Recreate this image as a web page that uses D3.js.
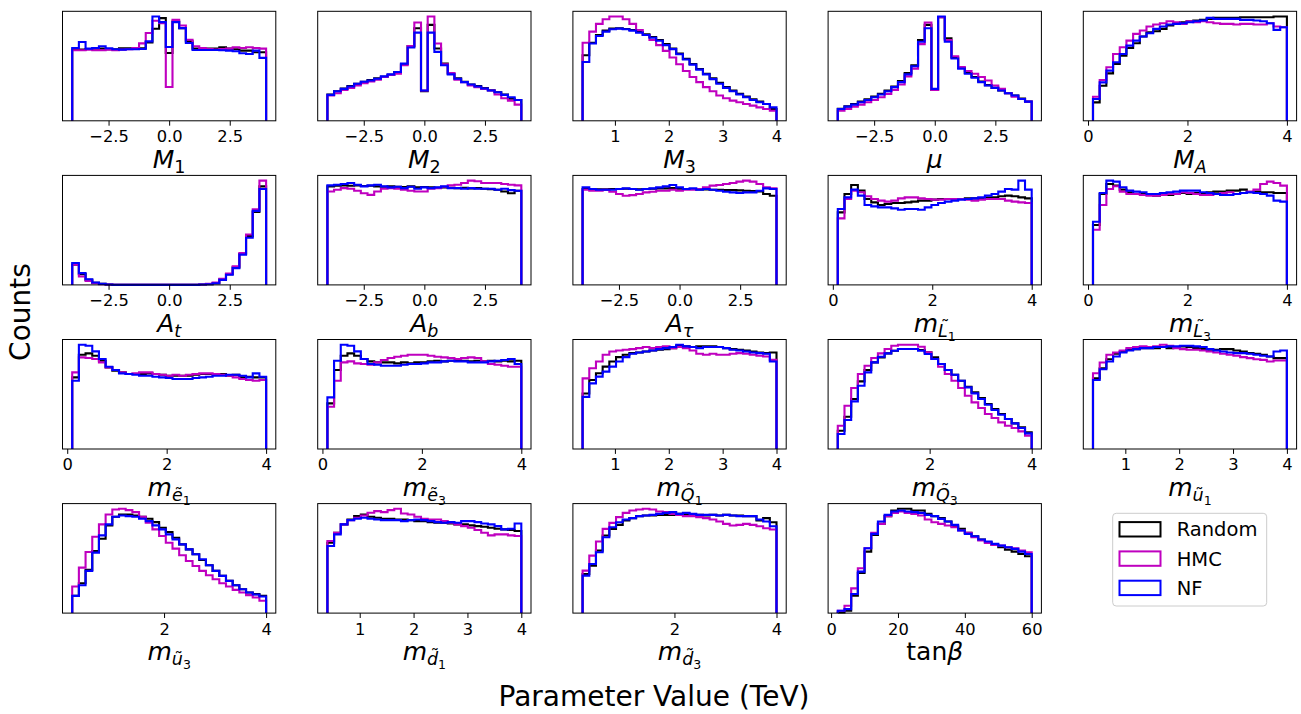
<!DOCTYPE html>
<html>
<head>
<meta charset="utf-8">
<script src="https://cdn.jsdelivr.net/npm/d3@7"></script>
<style>
  html, body { margin: 0; padding: 0; background: #fff; }
  svg { display: block; font-family: "DejaVu Sans", sans-serif; }
</style>
</head>
<body>
<script>
// ---------------- DATA ----------------
const NBINS = 29;
const seriesNames = ["Random", "HMC", "NF"];

// panel order, row by row
const panelNames = ["M1","M2","M3","mu","MA","At","Ab","Atau","mL1","mL3",
                    "me1","me3","mQ1","mQ3","mu1","mu3","md1","md3","tanb"];

const ranges = [
  [-4,4],[-4,4],[0.4,4],[-4,4],[0.1,4],
  [-4,4],[-4,4],[-4,4],[0.1,4],[0.1,4],
  [0.1,4],[0.1,4],[0.4,4],[0.2,4],[0.4,4],
  [0.2,4],[0.4,4],[0.2,4],[2,60]
];

const tickSets = [
  [-2.5,0,2.5],[-2.5,0,2.5],[1,2,3,4],[-2.5,0,2.5],[0,2,4],
  [-2.5,0,2.5],[-2.5,0,2.5],[-2.5,0,2.5],[0,2,4],[0,2,4],
  [0,2,4],[0,2,4],[1,2,3,4],[2,4],[1,2,3,4],
  [2,4],[1,2,3,4],[2,4],[0,20,40,60]
];

// axis labels: [text, level (0 base, 1 sub, 2 subsub), italic, tilde]
const axisLabels = [
  [["M",0,1],["1",1,0]],
  [["M",0,1],["2",1,0]],
  [["M",0,1],["3",1,0]],
  [["\u03bc",0,1]],
  [["M",0,1],["A",1,1]],
  [["A",0,1],["t",1,1]],
  [["A",0,1],["b",1,1]],
  [["A",0,1],["\u03c4",1,1]],
  [["m",0,1],["L",1,1,1],["1",2,0]],
  [["m",0,1],["L",1,1,1],["3",2,0]],
  [["m",0,1],["e",1,1,1],["1",2,0]],
  [["m",0,1],["e",1,1,1],["3",2,0]],
  [["m",0,1],["Q",1,1,1],["1",2,0]],
  [["m",0,1],["Q",1,1,1],["3",2,0]],
  [["m",0,1],["u",1,1,1],["1",2,0]],
  [["m",0,1],["u",1,1,1],["3",2,0]],
  [["m",0,1],["d",1,1,1],["1",2,0]],
  [["m",0,1],["d",1,1,1],["3",2,0]],
  [["tan",0,0],["\u03b2",0,1]]
];

const randomCounts = [
  [215,215,217,218,218,216,216,219,219,218,219,237,278,310,205,300,280,240,218,218,218,218,222,218,216,212,212,207,207],
  [78,88,96,103,110,116,121,126,131,137,145,168,222,275,88,285,215,170,140,126,116,108,103,97,91,85,78,66,62],
  [195,232,255,268,274,275,273,270,264,257,249,240,228,215,200,184,169,154,140,126,113,100,90,80,72,64,57,50,35],
  [36,43,50,57,64,72,80,90,102,118,142,165,240,285,92,308,245,188,157,142,130,117,106,98,90,82,75,66,57],
  [55,105,142,170,195,218,232,252,265,268,275,285,290,295,298,300,302,305,308,308,308,308,310,310,310,310,310,312,312],
  [60,32,15,6,3,1,0,0,0,0,0,0,0,0,0,0,0,0,0,1,2,5,16,32,52,92,145,217,293],
  [290,292,293,292,293,291,292,290,289,290,289,288,290,287,288,287,286,287,286,285,286,284,285,283,282,280,275,270,277],
  [285,285,284,284,285,285,286,285,284,285,286,287,287,288,286,285,285,284,284,283,283,282,282,281,280,279,278,270,265],
  [217,272,299,282,257,247,239,242,245,245,247,249,252,252,255,257,257,257,257,259,259,260,261,262,265,267,265,262,259],
  [179,272,302,297,285,277,272,272,269,267,269,269,272,275,272,275,275,277,279,279,282,282,285,277,279,277,277,275,275],
  [215,283,287,280,265,245,235,230,225,225,225,227,225,223,220,220,220,220,223,225,225,223,225,220,223,215,217,215,215],
  [137,237,280,287,280,270,263,260,260,260,257,260,257,260,260,263,265,263,265,265,265,263,265,263,265,263,265,263,265],
  [165,205,225,245,260,273,280,285,287,290,293,295,297,300,307,305,303,305,305,305,303,300,297,295,293,290,287,285,287],
  [55,97,150,203,237,260,275,287,295,300,300,300,297,290,275,255,237,223,205,187,170,153,135,120,105,90,77,65,50],
  [210,240,267,283,290,295,297,300,300,300,303,300,303,305,303,300,297,295,295,297,297,293,290,285,283,280,275,270,270],
  [52,90,130,187,224,264,290,297,297,294,290,284,274,257,244,227,207,192,177,160,144,127,112,97,84,72,62,57,52],
  [212,242,267,282,292,297,290,287,284,284,282,282,280,277,277,274,272,272,270,267,267,264,262,260,257,254,252,250,247],
  [117,142,187,232,252,264,277,284,290,292,292,294,294,294,297,297,294,294,292,294,292,294,292,292,290,290,277,284,272],
  [2,7,52,120,184,234,267,290,307,312,312,307,307,297,290,284,274,260,252,240,230,220,212,204,197,190,184,177,170]
];

const hmcCounts = [
  [213,213,215,213,213,215,213,215,216,220,234,265,302,295,102,305,288,245,225,220,217,215,217,218,222,220,222,220,218],
  [75,82,92,98,105,112,117,122,130,136,140,165,222,292,90,310,230,168,142,122,115,105,100,95,90,78,67,60,48],
  [232,265,288,302,310,310,302,288,270,255,240,225,208,188,168,148,130,115,100,88,75,67,60,55,50,45,40,35,30],
  [30,35,42,48,55,62,70,80,92,108,132,155,228,292,92,308,240,192,160,148,140,130,120,105,95,82,72,65,57],
  [72,122,160,200,220,240,260,270,282,288,292,298,295,290,298,295,298,295,292,290,290,288,290,290,288,288,292,282,280],
  [60,25,12,5,2,1,0,0,0,0,0,0,0,0,0,0,0,0,0,1,3,7,18,34,55,95,150,225,310],
  [275,280,285,283,277,270,265,275,283,285,283,280,277,275,275,283,285,289,293,295,300,307,305,300,300,300,297,295,293],
  [283,280,280,283,277,270,265,267,270,275,277,280,280,283,280,283,283,285,290,295,297,300,303,307,310,307,300,290,287],
  [199,257,282,277,265,257,252,249,252,259,262,262,259,257,255,255,257,257,257,255,252,255,257,257,257,252,249,247,245],
  [165,239,287,295,279,272,272,269,267,267,269,272,272,277,275,272,269,269,272,275,277,272,275,279,285,302,309,305,297],
  [230,275,273,270,260,245,237,230,225,227,230,230,225,223,220,223,220,223,225,227,227,225,223,220,215,210,207,205,207],
  [127,205,260,263,257,255,253,260,267,273,277,280,283,283,283,280,277,275,273,270,273,275,273,263,255,253,250,247,247],
  [210,240,260,280,290,293,295,297,300,303,300,303,305,300,303,300,293,283,280,283,280,280,283,285,283,280,277,275,265],
  [70,130,183,225,250,273,287,300,310,313,313,313,307,290,270,247,225,205,183,160,140,123,105,93,80,70,63,53,40],
  [225,257,280,287,293,300,303,305,303,305,310,307,300,297,295,295,293,290,287,283,280,277,273,270,267,265,260,263,263],
  [80,137,184,230,267,297,312,314,310,304,290,272,252,232,212,194,174,157,142,127,114,102,90,80,70,62,54,47,37],
  [217,242,267,280,287,294,302,307,304,310,314,300,297,290,284,282,282,277,272,267,262,257,250,242,234,237,237,234,232],
  [127,172,214,252,270,287,300,307,310,312,310,304,302,297,294,290,290,287,284,280,274,267,262,264,267,264,260,254,250],
  [7,22,74,134,194,240,267,290,300,304,300,297,292,280,272,267,262,257,247,240,227,217,210,204,202,197,194,187,182]
];

const nfCounts = [
  [220,238,218,220,225,219,216,215,216,216,217,240,315,298,223,298,280,235,214,214,214,214,213,212,210,204,202,212,190],
  [77,88,95,102,110,116,120,125,132,138,145,170,218,262,90,262,205,165,138,125,115,108,102,96,90,85,77,70,62],
  [175,230,252,265,272,274,272,268,262,255,247,238,225,213,198,182,167,152,138,124,110,98,88,78,70,62,55,50,40],
  [35,42,48,55,62,70,78,88,100,115,138,162,235,275,95,310,235,185,155,140,128,115,105,98,90,82,75,65,57],
  [65,115,150,175,200,225,240,252,262,275,282,288,290,292,295,298,300,308,305,305,305,305,302,302,300,298,292,272,280],
  [65,35,17,7,3,1,0,0,0,0,0,0,0,0,0,0,0,0,0,1,2,5,15,30,50,90,140,220,285],
  [293,295,297,300,295,290,293,295,290,287,289,285,289,283,287,285,287,290,285,285,283,285,283,283,283,280,283,279,277],
  [290,285,283,283,283,285,287,285,283,285,287,290,293,297,290,285,287,283,285,283,280,277,275,273,275,275,280,287,285],
  [227,262,285,267,239,235,232,232,229,225,227,227,225,232,239,245,249,252,255,257,259,262,267,272,279,287,285,312,285],
  [189,275,312,309,292,282,279,277,272,272,275,277,279,282,282,282,277,275,272,269,269,272,275,277,275,272,267,252,249],
  [205,313,310,293,270,247,237,227,225,223,220,220,217,215,213,210,210,210,213,215,217,220,220,223,223,220,215,227,217],
  [155,265,313,310,293,270,255,253,250,250,250,253,255,255,257,260,260,263,265,263,263,260,260,260,263,265,267,270,255],
  [155,195,215,230,245,260,273,283,287,290,293,297,300,303,310,305,303,300,303,303,303,300,295,293,290,287,285,283,260],
  [45,87,143,190,230,260,277,287,295,300,300,300,295,285,270,255,237,223,205,185,167,150,133,117,103,90,77,63,47],
  [205,237,260,275,287,293,297,300,300,303,303,305,305,307,307,305,303,297,293,290,287,285,285,283,280,277,275,290,293],
  [52,84,127,182,234,267,290,294,292,290,284,277,264,252,237,222,207,192,177,162,144,127,112,97,84,72,62,56,50],
  [202,237,267,280,284,287,284,282,280,280,280,277,280,282,280,277,274,272,274,272,277,277,274,270,267,262,252,254,270],
  [112,147,182,227,257,272,280,284,290,292,294,297,300,302,297,300,297,294,294,294,292,294,292,290,290,290,280,274,260],
  [7,12,57,124,194,237,274,294,304,307,304,302,300,294,290,282,274,264,247,237,230,220,214,207,202,197,192,184,177]
];

// ---------------- DRAWING ----------------
const W = 1301, H = 714;
const colors = ["#000000", "#bf00bf", "#0000ff"];
const seriesData = [randomCounts, hmcCounts, nfCounts];

const svg = d3.select("body").append("svg")
  .attr("width", W).attr("height", H)
  .attr("viewBox", `0 0 ${W} ${H}`);

const PW = 213.3, PH = 109.5;
const levelSize = [25, 17.5, 12.5];
const levelShift = [0, 5, 9];
const tallLetters = "LQdb";

function fmtTick(d, sym) {
  if (sym) {
    const s = Math.abs(d).toFixed(1);
    return d < 0 ? "\u2212" + s : s;
  }
  return String(d);
}

panelNames.forEach((name, i) => {
  const r = Math.floor(i / 5), c = i % 5;
  const x0 = 62.5 + c * 255.2, y0 = 11.3 + r * 164.1;
  const [lo, hi] = ranges[i];
  const pad = (hi - lo) * 0.05;
  const x = d3.scaleLinear().domain([lo - pad, hi + pad]).range([x0, x0 + PW]);
  const maxV = d3.max(seriesData.map(s => d3.max(s[i])));
  const y = d3.scaleLinear().domain([0, maxV * 1.05]).range([y0 + PH, y0]);
  const edges = d3.range(NBINS + 1).map(k => lo + (hi - lo) * k / NBINS);

  const g = svg.append("g");
  const line = d3.line().x(d => x(d[0])).y(d => y(d[1]));

  seriesData.forEach((s, si) => {
    const vals = s[i];
    const pts = [[edges[0], 0]];
    vals.forEach((v, k) => { pts.push([edges[k], v]); pts.push([edges[k + 1], v]); });
    pts.push([edges[NBINS], 0]);
    g.append("path").attr("d", line(pts))
      .attr("fill", "none").attr("stroke", colors[si])
      .attr("stroke-width", 2.1).attr("stroke-linejoin", "miter");
  });

  // frame
  g.append("rect").attr("x", x0).attr("y", y0).attr("width", PW).attr("height", PH)
    .attr("fill", "none").attr("stroke", "#000").attr("stroke-width", 1);

  // x axis
  const sym = lo < 0;
  const ax = g.append("g").attr("transform", `translate(0,${y0 + PH})`)
    .call(d3.axisBottom(x).tickValues(tickSets[i]).tickSize(4.9).tickPadding(5)
      .tickFormat(d => fmtTick(d, sym)));
  ax.select(".domain").remove();
  ax.selectAll(".tick line").attr("stroke", "#000").attr("stroke-width", 1);
  ax.selectAll(".tick text").attr("font-family", "DejaVu Sans").attr("font-size", 16.3).attr("fill", "#000");

  // axis label
  const baseY = y0 + PH + 47;
  const t = g.append("text").attr("x", x0 + PW / 2).attr("y", baseY)
    .attr("text-anchor", "middle").attr("fill", "#000").attr("font-family", "DejaVu Sans");
  let prevShift = 0;
  const tildes = [];
  let charIdx = 0;
  axisLabels[i].forEach(([txt, lvl, it, tl]) => {
    const sh = levelShift[lvl];
    t.append("tspan").text(txt)
      .attr("dy", sh - prevShift)
      .attr("font-size", levelSize[lvl])
      .attr("font-style", it ? "italic" : "normal");
    if (tl) tildes.push({ idx: charIdx, lvl, txt });
    charIdx += txt.length;
    prevShift = sh;
  });
  // tilde accents as positioned tspans of the same label text
  const accents = tildes.map(tl => {
    let cx;
    try {
      const ext = t.node().getExtentOfChar(tl.idx);
      cx = ext.x + ext.width / 2;
    } catch (e) { cx = x0 + PW / 2; }
    const tall = tallLetters.includes(tl.txt);
    return { x: cx + (tall ? 2.2 : 1.2), y: baseY + levelShift[tl.lvl] - (tall ? 3.6 : 0.3), fs: levelSize[tl.lvl] };
  });
  accents.forEach(a => {
    t.append("tspan").attr("x", a.x).attr("y", a.y)
      .attr("font-size", a.fs).attr("font-style", "normal").text("\u02dc");
  });
});

// Global labels
svg.append("text").attr("x", 654).attr("y", 706).attr("text-anchor", "middle")
  .attr("font-size", 28).attr("fill", "#000").text("Parameter Value (TeV)");
svg.append("text").attr("transform", "translate(29.5,312) rotate(-90)")
  .attr("text-anchor", "middle").attr("font-size", 28).attr("fill", "#000").text("Counts");

// Legend
const lg = svg.append("g");
lg.append("rect").attr("x", 1112.7).attr("y", 513.3).attr("width", 154).attr("height", 92.7)
  .attr("rx", 3.5).attr("fill", "#fff").attr("fill-opacity", 0.8)
  .attr("stroke", "#cccccc").attr("stroke-width", 1);
seriesNames.forEach((n, k) => {
  const cy = 529.3 + k * 29.3;
  lg.append("rect").attr("x", 1119.5).attr("y", cy - 7.2).attr("width", 41).attr("height", 14.4)
    .attr("fill", "none").attr("stroke", colors[k]).attr("stroke-width", 2);
  lg.append("text").attr("x", 1176.7).attr("y", cy + 7.1).attr("font-size", 19.5)
    .attr("fill", "#000").text(n);
});
</script>
</body>
</html>
